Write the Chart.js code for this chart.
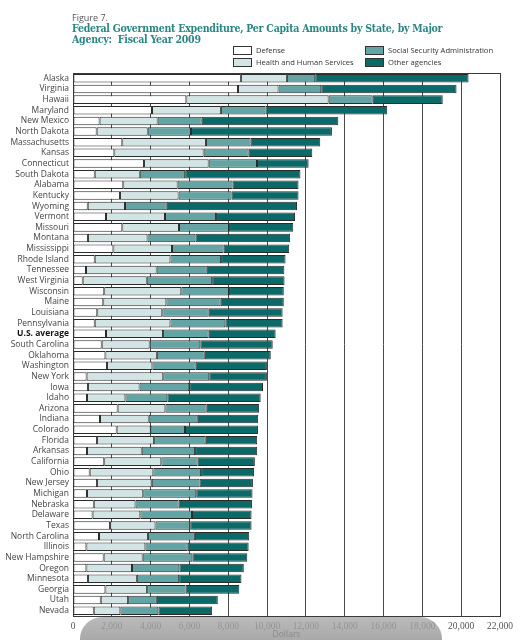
<!DOCTYPE html>
<html>
<head>
<meta charset="utf-8">
<script src="https://cdn.jsdelivr.net/npm/chart.js@4/dist/chart.umd.min.js"></script>
<style>
  html, body { margin: 0; padding: 0; background: #ffffff; }
  body { width: 532px; height: 640px; position: relative; overflow: hidden; font-family: "Open Sans", "Noto Sans", sans-serif; }
  #wrap { position: absolute; left: 0; top: 0; width: 532px; height: 640px; }
  .fig { position: absolute; left: 72px; top: 12px; font-size: 9px; line-height: 11px; color: #555; }
  .ttl { position: absolute; left: 72px; top: 23px; font-family: "DejaVu Serif", serif; font-stretch: condensed; font-weight: bold; font-size: 10.5px; line-height: 10.5px; color: #2a8684; letter-spacing: -0.25px; white-space: nowrap; }
  .lg { position: absolute; font-size: 7.6px; line-height: 9px; color: #333; white-space: nowrap; }
  .lg span.b { display: inline-block; width: 17px; height: 7px; border: 1px solid #333; vertical-align: -2px; margin-right: 4px; }
  #bar { position: absolute; left: 80px; top: 617px; width: 362px; height: 46px; border-radius: 22px;
         background: linear-gradient(#a9a9a9, #7e7e7e); opacity: 0.8; pointer-events: none; }
</style>
</head>
<body>
<div id="wrap"><canvas id="c" width="532" height="640"></canvas></div>
<div class="fig">Figure 7.</div>
<div class="ttl" id="ttl">Federal Government Expenditure, Per Capita Amounts by State, by Major<br>Agency:&nbsp; Fiscal Year 2009</div>
<div class="lg" style="left:233px;top:46px"><span class="b" style="background:#ffffff"></span>Defense</div>
<div class="lg" style="left:233px;top:58px"><span class="b" style="background:#d2e5e4"></span>Health and Human Services</div>
<div class="lg" style="left:365px;top:46px"><span class="b" style="background:#62a5a4"></span>Social Security Administration</div>
<div class="lg" style="left:365px;top:58px"><span class="b" style="background:#0b6967"></span>Other agencies</div>
<div id="bar"></div>
<script>
const states = ["Alaska","Virginia","Hawaii","Maryland","New Mexico","North Dakota","Massachusetts","Kansas","Connecticut","South Dakota","Alabama","Kentucky","Wyoming","Vermont","Missouri","Montana","Mississippi","Rhode Island","Tennessee","West Virginia","Wisconsin","Maine","Louisiana","Pennsylvania","U.S. average","South Carolina","Oklahoma","Washington","New York","Iowa","Idaho","Arizona","Indiana","Colorado","Florida","Arkansas","California","Ohio","New Jersey","Michigan","Nebraska","Delaware","Texas","North Carolina","Illinois","New Hampshire","Oregon","Minnesota","Georgia","Utah","Nevada"];

const defense = [8650,8500,5840,4070,1370,1220,2540,2130,3660,1120,2590,2420,760,1700,2540,770,2080,1120,670,500,1610,1560,1250,1120,1700,1480,1670,1750,700,770,720,2300,1390,2250,1240,720,1610,860,1240,720,1070,1010,1910,1340,690,1580,690,770,1670,1430,1070];

const hhs = [2370,2090,7330,3550,2990,2630,4310,4600,3330,2320,2800,3020,1920,3040,2920,3070,3020,3900,3640,3300,3970,3250,3350,3900,2940,2470,2650,2340,3950,2660,1980,2460,2510,1750,2940,2820,2940,3280,2820,2900,2150,2460,2340,2520,3040,2010,2350,2520,2150,1410,1370];

const ssa = [1460,2200,2270,2300,2270,2230,2300,2320,2490,2340,2830,2730,2150,2630,2580,2470,2660,2610,2580,3370,2460,2800,2390,2830,2350,2610,2470,2230,2370,2560,2160,2130,2530,1770,2660,2750,1870,2460,2460,2730,2220,2660,1790,2420,2180,2560,2440,2180,1980,1480,1960];

const other = [7900,6970,3610,6270,7040,7260,3590,3280,2660,5940,3400,3450,6710,4070,3310,4880,3380,3320,4000,3730,2820,3250,3810,2950,3450,3730,3400,3670,2970,3800,4810,2700,3110,3760,2650,3200,2950,2730,2750,2900,3780,3070,3160,2800,3140,2830,3320,3210,2770,3140,2770];

const xTicks = [0,2000,4000,6000,8000,10000,12000,14000,16000,18000,20000,22000];
const usIndex = states.indexOf("U.S. average");

const edge = "#2b2b2b";
const mk = (label, data, color) => ({
  label, data, backgroundColor: color, borderColor: edge, borderWidth: 1,
  barPercentage: 0.8, categoryPercentage: 1.0, borderSkipped: false
});

const framePlugin = {
  id: "frame",
  afterDraw(chart) {
    const a = chart.chartArea, c = chart.ctx;
    c.save();
    c.strokeStyle = "#3a3a3a";
    c.lineWidth = 1;
    c.strokeRect(Math.round(a.left) + 0.5, Math.round(a.top) + 0.5, Math.round(a.right - a.left), Math.round(a.bottom - a.top));
    c.restore();
  }
};

new Chart(document.getElementById("c"), {
  type: "bar",
  data: {
    labels: states,
    datasets: [
      mk("Defense", defense, "#ffffff"),
      mk("Health and Human Services", hhs, "#d2e5e4"),
      mk("Social Security Administration", ssa, "#62a5a4"),
      mk("Other agencies", other, "#0b6967")
    ]
  },
  options: {
    indexAxis: "y",
    responsive: false,
    animation: false,
    devicePixelRatio: 1,
    layout: { padding: { top: 73, right: 32, left: 0, bottom: 0 } },
    plugins: { legend: { display: false }, tooltip: { enabled: false }, title: { display: false } },
    scales: {
      x: {
        stacked: true,
        min: 0, max: 22000,
        afterBuildTicks(scale) { scale.ticks = xTicks.map(v => ({ value: v })); },
        afterFit(scale) { scale.height = 24; },
        grid: { color: "#4a4a4a", lineWidth: 1, drawTicks: false },
        border: { display: true, color: "#3a3a3a" },
        ticks: {
          padding: 5,
          color: "#555",
          font: { family: "Liberation Serif", size: 9.5 },
          callback: (v) => Number(v).toLocaleString("en-US")
        },
        title: { display: true, text: "Dollars", color: "#444", padding: { top: 0, bottom: 0 }, font: { family: "Open Sans", size: 8.5 } }
      },
      y: {
        stacked: true,
        afterFit(scale) { scale.width = 73; },
        grid: { display: false, drawTicks: false },
        border: { display: true, color: "#3a3a3a" },
        ticks: {
          autoSkip: false,
          padding: 4,
          color: (ctx) => ctx.index === usIndex ? "#111" : "#444",
          font: (ctx) => ({ family: "Open Sans", size: 8.5, weight: ctx.index === usIndex ? "bold" : "normal" })
        }
      }
    }
  },
  plugins: [framePlugin]
});
</script>
</body>
</html>
